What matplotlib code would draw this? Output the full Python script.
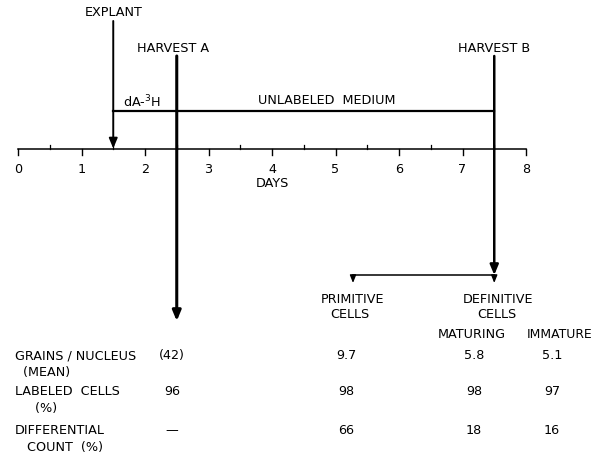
import matplotlib
matplotlib.use("Agg")
import matplotlib.pyplot as plt

# ---- data ----
day_ticks = [0, 1, 2, 3, 4, 5, 6, 7, 8]
minor_ticks = [0.5, 1.5, 2.5, 3.5, 4.5, 5.5, 6.5, 7.5]
explant_day = 1.5
harvest_a_day = 2.5
harvest_b_day = 7.5
row_labels = [["GRAINS / NUCLEUS", "  (MEAN)"], ["LABELED  CELLS", "     (%)"], ["DIFFERENTIAL", "   COUNT  (%)"]]
harvest_a_vals = ["(42)", "96", "—"]
primitive_vals = ["9.7", "98", "66"]
maturing_vals = ["5.8", "98", "18"]
immature_vals = ["5.1", "97", "16"]

plt.rcParams['font.family'] = ['DejaVu Sans']
FS = 9.2

fig = plt.figure(figsize=(5.97, 4.60), dpi=100)
ax = fig.add_axes([0, 0, 1, 1])
px0, ppd = 18.0, 63.5
ax.set_xlim((0 - px0) / ppd, (597 - px0) / ppd)
ax.set_ylim(460, 0)
ax.axis('off')

def X(px):
    return (px - px0) / ppd

axis_y = 149.5
# time axis
ax.plot([day_ticks[0], day_ticks[-1]], [axis_y, axis_y], color='black', lw=1.1)
for d in day_ticks:
    ax.plot([d, d], [axis_y, axis_y + 6], color='black', lw=1.0)
    ax.text(d, 170, str(d), ha='center', va='center', fontsize=FS)
for d in minor_ticks:
    ax.plot([d, d], [axis_y, axis_y - 3.5], color='black', lw=0.9)
ax.text(4, 184, "DAYS", ha='center', va='center', fontsize=FS)

# explant arrow
ax.annotate("", xy=(explant_day, axis_y), xytext=(explant_day, 22),
            arrowprops=dict(arrowstyle='-|>,head_length=0.6,head_width=0.25', color='black', lw=1.4,
                            shrinkA=0, shrinkB=0))
ax.text(explant_day, 13, "EXPLANT", ha='center', va='center', fontsize=FS)

# medium line
ax.plot([explant_day, harvest_b_day], [112, 112], color='black', lw=1.6)
ax.text(X(142), 102, "dA-$^{3}$H", ha='center', va='center', fontsize=FS)
ax.text(X(327), 101, "UNLABELED  MEDIUM", ha='center', va='center', fontsize=FS)

# harvest A
ax.annotate("", xy=(harvest_a_day, 322), xytext=(harvest_a_day, 57),
            arrowprops=dict(arrowstyle='-|>,head_length=0.6,head_width=0.25', color='black', lw=2.2,
                            shrinkA=0, shrinkB=0))
ax.text(X(173), 48, "HARVEST A", ha='center', va='center', fontsize=FS)

# harvest B
ax.annotate("", xy=(harvest_b_day, 276), xytext=(harvest_b_day, 57),
            arrowprops=dict(arrowstyle='-|>,head_length=0.6,head_width=0.25', color='black', lw=1.8,
                            shrinkA=0, shrinkB=0))
ax.text(harvest_b_day, 48, "HARVEST B", ha='center', va='center', fontsize=FS)

# branch
ax.plot([X(353), harvest_b_day], [276, 276], color='black', lw=1.1)
for xb in [X(353), harvest_b_day]:
    ax.annotate("", xy=(xb, 284), xytext=(xb, 276),
                arrowprops=dict(arrowstyle='-|>,head_length=0.45,head_width=0.18', color='black', lw=1.0,
                                shrinkA=0, shrinkB=0))

ax.text(X(352), 300, "PRIMITIVE", ha='center', va='center', fontsize=FS)
ax.text(X(350), 315, "CELLS", ha='center', va='center', fontsize=FS)
ax.text(X(498), 300, "DEFINITIVE", ha='center', va='center', fontsize=FS)
ax.text(X(497), 315, "CELLS", ha='center', va='center', fontsize=FS)
ax.text(X(472), 335, "MATURING", ha='center', va='center', fontsize=FS)
ax.text(X(592), 335, "IMMATURE", ha='right', va='center', fontsize=FS - 0.3)

row_y = [356, 392, 431]
for i, y in enumerate(row_y):
    ax.text(X(15), y, row_labels[i][0], ha='left', va='center', fontsize=FS)
    ax.text(X(15), y + 17, row_labels[i][1], ha='left', va='center', fontsize=FS)
    ax.text(X(172), y, harvest_a_vals[i], ha='center', va='center', fontsize=FS)
    ax.text(X(346), y, primitive_vals[i], ha='center', va='center', fontsize=FS)
    ax.text(X(474), y, maturing_vals[i], ha='center', va='center', fontsize=FS)
    ax.text(X(552), y, immature_vals[i], ha='center', va='center', fontsize=FS)

fig.savefig("out.png", dpi=100)
